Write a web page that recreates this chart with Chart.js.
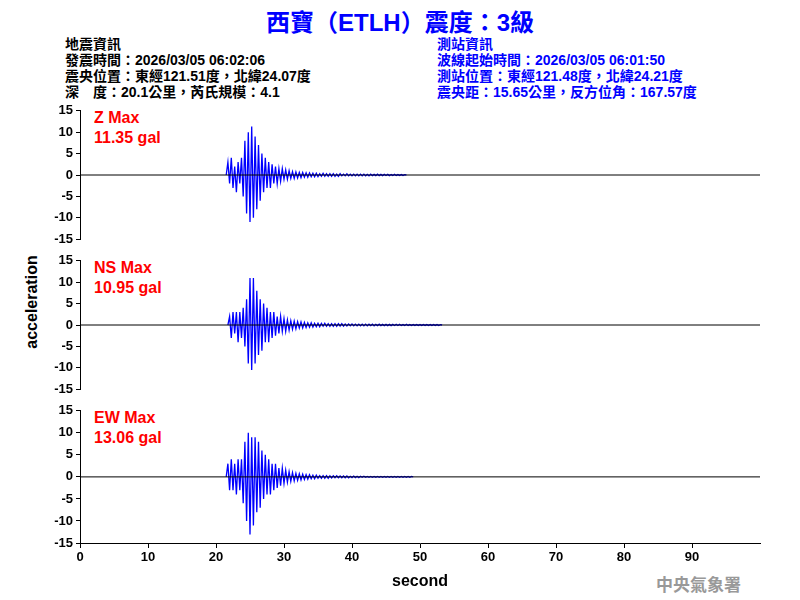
<!DOCTYPE html>
<html><head><meta charset="utf-8">
<script src="https://cdn.jsdelivr.net/npm/chart.js@4/dist/chart.umd.min.js"></script>
<style>
body{margin:0;width:800px;height:600px;background:#fff;position:relative;overflow:hidden;font-family:"Liberation Sans",Arial,sans-serif}
canvas{position:absolute;left:0}
.t{position:absolute;white-space:nowrap}
.h{font-family:"Liberation Sans","Noto Sans CJK TC",sans-serif;font-size:14px;font-weight:bold;line-height:16px}
.m{color:#f00;font-size:16px;line-height:20px;font-weight:bold}
</style></head><body>
<div class="t" style="left:0;width:800px;top:3px;text-align:center;color:#00f;font-size:24px;font-weight:bold;font-family:'Liberation Sans','Noto Sans CJK TC'">西寶（ETLH）震度：3級</div>
<div class="t h" style="left:65px;top:36px">地震資訊<br>發震時間：2026/03/05 06:02:06<br>震央位置：東經121.51度，北緯24.07度<br>深　度：20.1公里，芮氏規模：4.1</div>
<div class="t h" style="left:437px;top:36px;color:#00f">測站資訊<br>波線起始時間：2026/03/05 06:01:50<br>測站位置：東經121.48度，北緯24.21度<br>震央距：15.65公里，反方位角：167.57度</div>
<div class="t m" style="left:94px;top:108px">Z Max<br>11.35 gal</div>
<div class="t m" style="left:94px;top:258px">NS Max<br>10.95 gal</div>
<div class="t m" style="left:94px;top:408px">EW Max<br>13.06 gal</div>
<div class="t" style="left:32px;top:302px;transform:translate(-50%,-50%) rotate(-90deg);font-size:16px;font-weight:bold">acceleration</div>
<div class="t" style="left:656px;top:571px;color:#999;font-size:17px;font-weight:bold;font-family:'Noto Sans CJK TC'">中央氣象署</div>
<canvas id="c1"></canvas><canvas id="c2"></canvas><canvas id="c3"></canvas>
<script>
const xTicks=[0,10,20,30,40,50,60,70,80,90];
const yTicks=[15,10,5,0,-5,-10,-15];
const dt=0.25;
const zStart=21.5, zValues=[0,3,-2,4,-3,2,-4,3,-2,4,-5,8,-9,10,-11,11.35,-10,9,-8,7,-6,5,-4,4,-3,3,-3,2.5,-2,2,-2,1.5,-1.5,1.5,-1,1.2,-1,1,-0.8,0.8,-0.8,0.7,-0.7,0.6,-0.6,0.6,-0.5,0.5,-0.5,0.5,-0.4,0.4,-0.4,0.4,-0.4,0.3,-0.3,0.4,-0.3,0.3,-0.3,0.3,-0.3,0.3,-0.3,0.2,-0.3,0.3,-0.2,0.2,-0.2,0.3,-0.2,0.2,-0.2,0.2,-0.2,0.2,-0.2,0.2,-0.2,0.2,-0.2,0.15,-0.2,0.2,-0.15,0.15,-0.15,0.2,-0.15,0.15,-0.15,0.15,-0.1,0.15,-0.15,0.1,-0.1,0.15,-0.1,0.1,-0.1,0.1,-0.1,0.1,0];
const nsStart=21.75, nsValues=[0,2,-3,3,-2,3,-4,3,-3,4,-5,6,-9,11,-10.5,10.95,-9,8,-7,6,-6,5,-4,4,-4,3,-3,3,-2.5,2,-2,2,-1.5,1.5,-1.5,1.2,-1.2,1,-1,0.9,-0.9,0.8,-0.7,0.7,-0.7,0.6,-0.6,0.5,-0.5,0.5,-0.5,0.4,-0.4,0.4,-0.4,0.4,-0.3,0.4,-0.3,0.3,-0.3,0.3,-0.3,0.3,-0.3,0.3,-0.25,0.3,-0.25,0.25,-0.25,0.25,-0.2,0.25,-0.2,0.2,-0.2,0.2,-0.2,0.2,-0.2,0.2,-0.2,0.2,-0.15,0.2,-0.2,0.15,-0.15,0.2,-0.15,0.15,-0.15,0.15,-0.15,0.15,-0.15,0.15,-0.1,0.15,-0.1,0.15,-0.1,0.1,-0.1,0.15,-0.1,0.1,-0.1,0.1,-0.1,0.1,-0.1,0.1,-0.1,0.1,-0.1,0.1,-0.1,0.1,-0.1,0.1,-0.1,0.1,-0.1,0.1,0];
const ewStart=21.5, ewValues=[0,3,-3,4,-3,3,-4,4,-3,4,-6,8,-10,10,-13.06,9,-11,9,-8,8,-7,6,-5,5,-4,4,-4,3,-3,3,-2.5,2,-2,2,-1.5,1.5,-1.2,1.2,-1,1,-0.9,0.8,-0.8,0.7,-0.7,0.6,-0.6,0.5,-0.5,0.5,-0.4,0.4,-0.4,0.4,-0.3,0.3,-0.3,0.3,-0.3,0.3,-0.3,0.25,-0.25,0.25,-0.2,0.25,-0.2,0.2,-0.2,0.2,-0.2,0.2,-0.2,0.15,-0.15,0.2,-0.15,0.15,-0.15,0.15,-0.1,0.15,-0.1,0.1,-0.1,0.1,-0.1,0.1,-0.1,0.1,-0.1,0.1,-0.1,0.1,-0.1,0.1,-0.1,0.1,-0.1,0.1,-0.1,0.1,-0.1,0.1,-0.1,0.1,-0.1,0.1,-0.1,0.1,0];
function pts(start,vals){return vals.map((v,i)=>({x:start+i*dt,y:v}));}
const font={family:"Liberation Sans, Arial",size:13,weight:'bold'};
function make(id,top,height,start,vals,showX){
  const c=document.getElementById(id);c.style.top=top+'px';c.width=800;c.height=height;c.style.width='800px';c.style.height=height+'px';
  new Chart(c,{type:'line',data:{datasets:[
    {data:[{x:0,y:0},{x:100,y:0}],borderColor:'#000',borderWidth:1,pointRadius:0},
    {data:pts(start,vals),borderColor:'#0000ff',borderWidth:1.3,pointRadius:0,tension:0}]},
   options:{animation:false,responsive:false,devicePixelRatio:1,
    layout:{padding:{top:8,bottom:showX?5:7,right:40,left:0}},
    plugins:{legend:{display:false},tooltip:{enabled:false}},
    scales:{
     x:{type:'linear',min:0,max:100,display:showX,
        afterFit:s=>{if(showX)s.height=52},
        afterBuildTicks:s=>{s.ticks=xTicks.map(v=>({value:v}))},
        ticks:{color:'#000',font,maxRotation:0,padding:2,autoSkip:false},
        grid:{drawOnChartArea:false,tickLength:5,color:'#000'},border:{color:'#000'},
        title:{display:true,text:'second',color:'#000',font:{family:"Liberation Sans, Arial",size:16,weight:'bold'},padding:{top:0}}},
     y:{min:-15,max:15,afterFit:s=>{s.width=80},
        afterBuildTicks:s=>{s.ticks=yTicks.map(v=>({value:v}))},
        ticks:{color:'#000',font,padding:3,autoSkip:false},
        grid:{drawOnChartArea:false,tickLength:4,color:'#000'},border:{color:'#000'}}}}});
}
make('c1',100,150,zStart,zValues,false);
make('c2',250,150,nsStart,nsValues,false);
make('c3',400,200,ewStart,ewValues,true);
</script></body></html>
